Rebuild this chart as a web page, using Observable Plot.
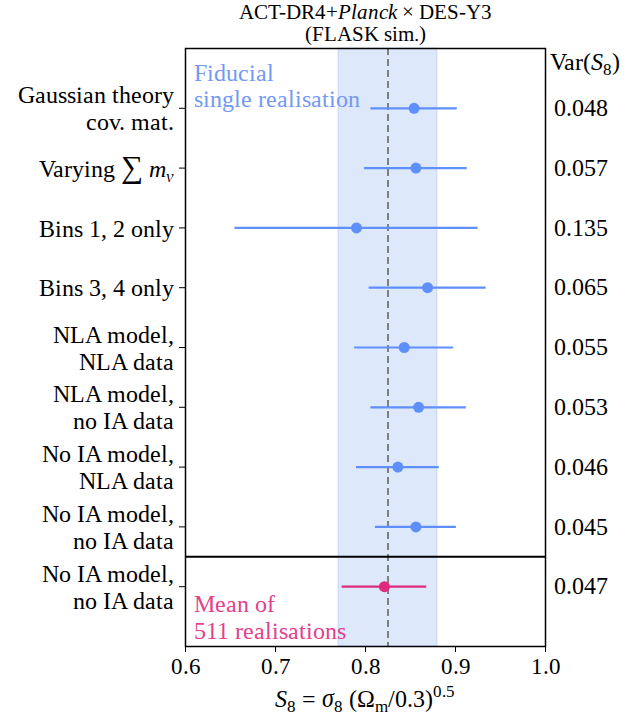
<!DOCTYPE html>
<html lang="en"><head><meta charset="utf-8">
<script src="https://cdn.jsdelivr.net/npm/d3@7"></script>
<script src="https://cdn.jsdelivr.net/npm/@observablehq/plot@0.6"></script>
<style>
@font-face { font-family: "CMSerif"; font-style: normal; font-weight: 400; src: local("Liberation Serif"), local("LiberationSerif"), local("LiberationSerif-Regular"), local("Times New Roman"); }
@font-face { font-family: "CMSerif"; font-style: italic; font-weight: 400; src: local("Liberation Serif Italic"), local("LiberationSerif-Italic"), local("Times New Roman Italic"); }
body { margin: 0; background: #fff; font-family: CMSerif, "Liberation Serif", "Times New Roman", Times, serif; }
svg { display: block; }
svg text, svg tspan { font-family: CMSerif, "Liberation Serif", "Times New Roman", Times, serif; }
</style>
</head><body>
<div id="title" style="width:629px;height:46px;position:relative;font-size:21px;line-height:22px;color:#000">
  <div style="position:absolute;left:165px;width:400px;top:1px;text-align:center">ACT-DR4+<i>Planck</i> × DES-Y3<br>(FLASK sim.)</div>
</div>
<div id="chart"></div>
<script>
const rowLabels = [
  "Gaussian theory\ncov. mat.",
  "Varying ∑ mν",
  "Bins 1, 2 only",
  "Bins 3, 4 only",
  "NLA model,\nNLA data",
  "NLA model,\nno IA data",
  "No IA model,\nNLA data",
  "No IA model,\nno IA data",
  "No IA model,\nno IA data"
];
const centers = [0.854, 0.856, 0.790, 0.869, 0.843, 0.859, 0.836, 0.856, 0.821];
const sigmas  = [0.048, 0.057, 0.135, 0.065, 0.055, 0.053, 0.046, 0.045, 0.047];
const varLabels = ["0.048","0.057","0.135","0.065","0.055","0.053","0.046","0.045","0.047"];
const groups = ["single","single","single","single","single","single","single","single","mean"];
const xTicks = [0.6, 0.7, 0.8, 0.9, 1.0];
const fiducial = [0.825];
const band = [{lo: 0.770, hi: 0.880}];
const separator = [7.5];
const BLUE = "#5f8ffa", BLUE_TEXT = "#7399f5", PINK = "#df2a80", PINK_TEXT = "#e3418d";
const FONT = "CMSerif, 'Liberation Serif', 'Times New Roman', Times, serif";

const rows = rowLabels.map((label, i) => ({
  i, label, c: centers[i], lo: centers[i] - sigmas[i], hi: centers[i] + sigmas[i],
  g: groups[i], v: varLabels[i]
}));

const plot = Plot.plot({
  width: 629, height: 671,
  marginLeft: 185, marginRight: 84, marginTop: 2, marginBottom: 71,
  style: {fontFamily: FONT, fontSize: "24px"},
  x: {domain: [0.6, 1.0]},
  y: {domain: [-1, 9], reverse: true},
  color: {domain: ["single", "mean"], range: [BLUE, PINK]},
  marks: [
    Plot.rect(band, {x1: "lo", x2: "hi", fill: "#6495ed", fillOpacity: 0.22, stroke: "#6495ed", strokeOpacity: 0.25}),
    Plot.ruleX(fiducial, {stroke: "#7f7f7f", strokeWidth: 2, strokeDasharray: "7,4"}),
    Plot.ruleY(separator, {stroke: "#000", strokeWidth: 2}),
    Plot.ruleY(rows, {y: "i", x1: "lo", x2: "hi", stroke: "g", strokeWidth: 2.2}),
    Plot.dot(rows, {y: "i", x: "c", fill: "g", r: 5.5}),
    Plot.text(rows, {y: "i", text: "v", frameAnchor: "right", textAnchor: "start", dx: 8, fontSize: 24}),
    Plot.text(["Fiducial\nsingle realisation"], {text: d => d, frameAnchor: "top-left", textAnchor: "start", lineAnchor: "top", dx: 8, dy: 13, fill: BLUE_TEXT, lineHeight: 1.12, fontSize: 24}),
    Plot.text(["Mean of\n511 realisations"], {text: d => d, frameAnchor: "bottom-left", textAnchor: "start", lineAnchor: "bottom", dx: 8, dy: -8, fill: PINK_TEXT, lineHeight: 1.12, fontSize: 24}),
    Plot.axisX({ticks: xTicks, tickFormat: d3.format(".1f"), tickSize: 6, tickPadding: 5, fontSize: 23, label: null}),
    Plot.axisY({ticks: d3.range(rowLabels.length), tickFormat: i => rowLabels[i], tickSize: 6, tickPadding: 6, lineHeight: 1.12, fontSize: 24, label: null}),
    Plot.frame({stroke: "#000", strokeWidth: 1.5})
  ]
});
document.getElementById("chart").appendChild(plot);

const svg = d3.select(plot).style("overflow", "visible");
// rich "Varying ∑ mν" tick label
svg.selectAll("text").filter(function() { return this.textContent === "Varying ∑ mν"; }).each(function() {
  const t = d3.select(this);
  t.text("");
  t.append("tspan").text("Varying ");
  t.append("tspan").attr("font-size", "1.3em").text("∑");
  t.append("tspan").text(" ");
  t.append("tspan").attr("font-style", "italic").text("m");
  t.append("tspan").attr("font-style", "italic").attr("font-size", "0.7em").attr("dy", "0.3em").text("ν");
});
const cx = 365;
// Var(S8)
const v = svg.append("text").attr("x", 550).attr("y", 24).attr("text-anchor", "start").attr("font-size", 24);
v.append("tspan").text("Var(");
v.append("tspan").attr("font-style", "italic").text("S");
v.append("tspan").attr("font-size", "0.7em").attr("dy", "0.3em").text("8");
v.append("tspan").attr("dy", "-0.21em").text(")");
// x label
const xl = svg.append("text").attr("x", cx).attr("y", 661).attr("text-anchor", "middle").attr("font-size", 24);
xl.append("tspan").attr("font-style", "italic").text("S");
xl.append("tspan").attr("font-size", "0.7em").attr("dy", "0.3em").text("8");
xl.append("tspan").attr("dy", "-0.21em").text(" = ");
xl.append("tspan").attr("font-style", "italic").text("σ");
xl.append("tspan").attr("font-size", "0.7em").attr("dy", "0.3em").text("8");
xl.append("tspan").attr("dy", "-0.21em").text(" (Ω");
xl.append("tspan").attr("font-size", "0.7em").attr("dy", "0.3em").text("m");
xl.append("tspan").attr("dy", "-0.21em").text("/0.3)");
xl.append("tspan").attr("font-size", "0.7em").attr("dy", "-0.6em").text("0.5");
</script>
</body></html>
